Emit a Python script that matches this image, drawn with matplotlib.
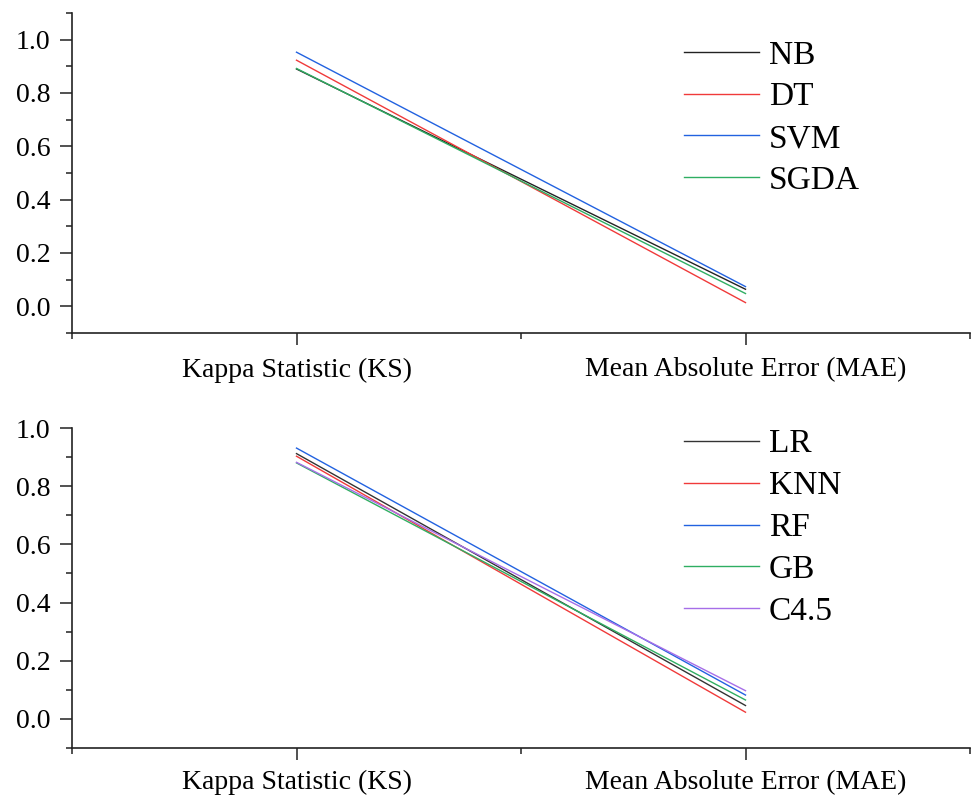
import matplotlib
matplotlib.use("Agg")
import matplotlib.pyplot as plt
from matplotlib.ticker import MultipleLocator, FixedLocator

plt.rcParams['font.family'] = ['Liberation Serif', 'DejaVu Serif']

categories = ["Kappa Statistic (KS)", "Mean Absolute Error (MAE)"]

# Top panel
top_names = ["NB", "DT", "SVM", "SGDA"]
nb = [0.890, 0.064]
dt = [0.923, 0.014]
svm = [0.953, 0.074]
sgda = [0.892, 0.048]
top_values = [nb, dt, svm, sgda]

# Bottom panel
bot_names = ["LR", "KNN", "RF", "GB", "C4.5"]
lr = [0.912, 0.046]
knn = [0.903, 0.023]
rf = [0.931, 0.082]
gb = [0.880, 0.065]
c45 = [0.882, 0.097]
bot_values = [lr, knn, rf, gb, c45]

top_colors = ["#222222", "#f03a3a", "#2262e0", "#2fae62"]
bot_colors = ["#333333", "#f03a3a", "#2262e0", "#2fae62", "#a66ee8"]

W, H = 972, 797
fig = plt.figure(figsize=(W / 100, H / 100), dpi=100)

def make_ax(left, top, right, bottom):
    return fig.add_axes([left / W, 1 - bottom / H, (right - left) / W, (bottom - top) / H])

ax1 = make_ax(72, 13, 970, 333)
ax2 = make_ax(72, 428, 970, 748)

xpos = [1, 2]

def style(ax, ylim, xpad):
    ax.set_xlim(0.5, 2.5)
    ax.set_ylim(*ylim)
    ax.spines['top'].set_visible(False)
    ax.spines['right'].set_visible(False)
    for s in ['left', 'bottom']:
        ax.spines[s].set_linewidth(1.2)
        ax.spines[s].set_color('#222222')
    ax.set_xticks(xpos)
    ax.set_xticklabels(categories)
    ax.xaxis.set_minor_locator(FixedLocator([0.5, 1.5, 2.5]))
    ax.yaxis.set_major_locator(FixedLocator([0.0, 0.2, 0.4, 0.6, 0.8, 1.0]))
    ax.set_yticklabels(["0.0", "0.2", "0.4", "0.6", "0.8", "1.0"])
    ax.yaxis.set_minor_locator(MultipleLocator(0.1))
    ax.tick_params(axis='both', which='major', direction='out', length=8.6, width=1.1,
                   color='#222222', labelsize=20, pad=7)
    ax.tick_params(axis='both', which='minor', direction='out', length=4.5, width=1.1,
                   color='#222222')
    ax.tick_params(axis='x', which='major', labelsize=20, pad=xpad)

style(ax1, (-0.1, 1.1), 9)
style(ax2, (-0.1, 1.0), 7)

for name, vals, c in zip(top_names, top_values, top_colors):
    ax1.plot(xpos, vals, color=c, lw=1.0, label=name)
for name, vals, c in zip(bot_names, bot_values, bot_colors):
    ax2.plot(xpos, vals, color=c, lw=1.0, label=name)

leg_kw = dict(frameon=False, fontsize=24, handlelength=2.25, handletextpad=0.3,
              labelspacing=0.34, borderpad=0, borderaxespad=0, loc='upper left')
ax1.legend(bbox_transform=fig.transFigure, bbox_to_anchor=(684 / W, 1 - 40 / H), **leg_kw)
ax2.legend(bbox_transform=fig.transFigure, bbox_to_anchor=(684 / W, 1 - 429 / H), **leg_kw)

fig.savefig("out.png", dpi=100)
